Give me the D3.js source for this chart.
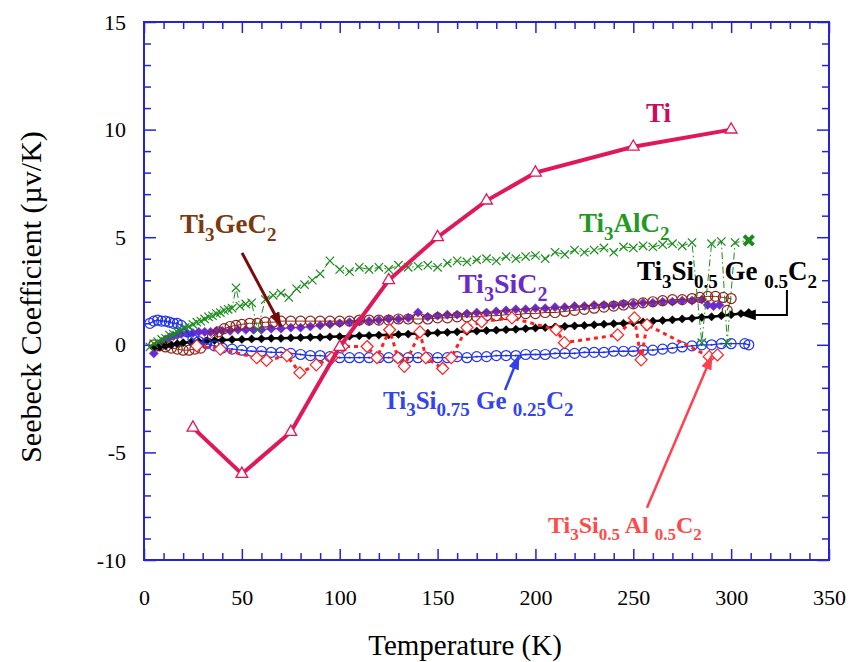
<!DOCTYPE html>
<html>
<head>
<meta charset="utf-8">
<script src="https://cdn.jsdelivr.net/npm/d3@7"></script>
<style>
  body { margin: 0; background: #fff; }
  text { font-family: "Liberation Serif", "Times New Roman", serif; white-space: pre; }
</style>
</head>
<body>
<script>
// Seebeck coefficient vs temperature
var tiData = [[25,-3.85],[50,-6.0],[75,-4.05],[100,-0.1],[125,3.0],[150,5.0],[175,6.7],[200,8.0],[250,9.2],[300,10.0]];

var alData = [[3,-0.1],[5,0.05],[7,0.15],[9,0.25],[11,0.3],[13,0.45],[15,0.5],[17,0.6],[19,0.7],[21,0.8],[23,0.85],[25,0.95],
  [27,1.05],[29,1.1],[31,1.2],[33,1.3],[35,1.35],[37,1.45],[39,1.5],[41,1.6],[43,1.65],[45,1.7],[47,2.65],[49,1.8],
  [52,1.9],[55,1.95],[58,0.7],[62,2.1],[66,2.3],[70,2.4],[74,2.2],[78,2.6],[82,2.8],[86,3.0],[90,3.3],
  [95,3.9],[100,3.5],[105,3.4],[110,3.6],[115,3.5],[120,3.6],[125,3.5],[130,3.7],[135,3.6],[140,3.65],[145,3.7],
  [150,3.6],[155,3.8],[160,3.9],[165,3.85],[170,3.95],[175,4.0],[180,3.9],[185,4.1],[190,4.0],[195,4.1],[200,4.15],
  [205,4.0],[210,4.3],[215,4.2],[220,4.4],[225,4.3],[230,4.4],[235,4.5],[240,4.3],[245,4.55],[250,4.5],[255,4.6],
  [260,4.55],[265,4.65],[270,4.7],[275,4.6],[280,4.75],[285,0.1],[290,4.7],[295,4.8],[298,0.1],[302,4.75],[309,4.85]];

var geData = [[5,0.0],[8,-0.05],[11,-0.1],[14,-0.15],[17,-0.2],[20,-0.25],[23,-0.25],[26,-0.2],[29,-0.15],[32,0.1],
  [35,0.4],[38,0.6],[41,0.75],[44,0.85],[47,0.9],[50,0.95],[54,1.0],[58,1.0],[62,1.05],[66,1.05],[70,1.1],[75,1.1],
  [80,1.1],[85,1.1],[90,1.1],[95,1.1],[100,1.1],[105,1.1],[110,1.15],[115,1.15],[120,1.15],[125,1.15],[130,1.2],
  [135,1.2],[140,1.2],[145,1.2],[150,1.25],[155,1.25],[160,1.3],[165,1.3],[170,1.3],[175,1.35],[180,1.35],[185,1.4],
  [190,1.4],[195,1.45],[200,1.45],[205,1.5],[210,1.5],[215,1.55],[220,1.6],[225,1.65],[230,1.7],[235,1.75],[240,1.8],
  [245,1.85],[250,1.9],[255,1.95],[260,2.0],[265,2.05],[270,2.1],[275,2.1],[280,2.15],[284,2.2],[288,2.25],[292,2.25],
  [296,2.2],[300,2.15],[298,1.6]];

var siData = [[5,-0.4],[7,-0.1],[9,0.1],[11,0.25],[13,0.35],[15,0.4],[17,0.45],[19,0.5],[22,0.55],[25,0.55],[28,0.6],
  [31,0.6],[34,0.6],[37,0.65],[40,0.65],[44,0.65],[48,0.7],[52,0.7],[56,0.7],[60,0.7],[65,0.75],[70,0.75],[75,0.8],
  [80,0.8],[85,0.85],[90,0.9],[95,0.95],[100,1.0],[105,1.05],[110,1.1],[115,1.1],[120,1.15],[125,1.2],[130,1.2],
  [135,1.25],[140,1.5],[145,1.3],[150,1.35],[155,1.4],[160,1.4],[165,1.45],[170,1.5],[175,1.5],[180,1.55],[185,1.6],
  [190,1.65],[195,1.65],[200,1.7],[205,1.7],[210,1.75],[215,1.75],[220,1.8],[225,1.8],[230,1.85],[235,1.85],[240,1.85],
  [245,1.9],[250,1.9],[255,1.95],[260,1.95],[265,2.0],[270,2.0],[275,2.05],[280,2.05],[285,2.1],[288,1.85],[291,1.8],[294,1.85]];

var siGeData = [[5,-0.1],[8,-0.1],[11,-0.05],[14,0.0],[17,0.05],[20,0.1],[24,0.12],[28,0.15],[32,0.18],[36,0.2],[40,0.22],
  [45,0.24],[50,0.25],[55,0.27],[60,0.28],[65,0.3],[70,0.3],[75,0.32],[80,0.33],[85,0.35],[90,0.35],[95,0.37],[100,0.38],
  [105,0.4],[110,0.42],[115,0.43],[120,0.45],[125,0.46],[130,0.48],[135,0.5],[140,0.52],[145,0.54],[150,0.56],[155,0.58],
  [160,0.6],[165,0.62],[170,0.64],[175,0.66],[180,0.68],[185,0.7],[190,0.72],[195,0.75],[200,0.78],[205,0.8],[210,0.83],
  [215,0.86],[220,0.88],[225,0.9],[230,0.93],[235,0.96],[240,0.98],[245,1.0],[250,1.03],[255,1.06],[260,1.1],[265,1.13],
  [270,1.16],[275,1.2],[280,1.23],[285,1.27],[290,1.3],[295,1.35],[300,1.4],[305,1.45],[309,1.5]];

var si75Data = [[3,1.0],[5,1.1],[7,1.15],[9,1.1],[11,1.1],[13,1.05],[15,1.0],[17,1.0],[19,0.9],[22,0.6],[25,0.25],[28,0.15],
  [32,0.05],[36,-0.05],[40,-0.15],[45,-0.2],[50,-0.25],[55,-0.3],[60,-0.3],[65,-0.35],[70,-0.35],[75,-0.4],[80,-0.45],
  [85,-0.5],[90,-0.5],[95,-0.55],[100,-0.6],[105,-0.6],[110,-0.6],[115,-0.6],[120,-0.6],[125,-0.6],[130,-0.6],[135,-0.6],
  [140,-0.6],[145,-0.6],[150,-0.6],[155,-0.6],[160,-0.55],[165,-0.6],[170,-0.55],[175,-0.55],[180,-0.5],[185,-0.5],
  [190,-0.5],[195,-0.45],[200,-0.45],[205,-0.45],[210,-0.4],[215,-0.4],[220,-0.4],[225,-0.35],[230,-0.35],[235,-0.35],
  [240,-0.3],[245,-0.3],[250,-0.3],[255,-0.25],[260,-0.25],[265,-0.2],[270,-0.15],[275,-0.1],[280,-0.05],[285,0.0],
  [290,0.0],[295,0.05],[300,0.05],[307,0.05],[309,0.0]];

var siAlData = [[27,-0.05],[39,-0.2],[57.6,-0.6],[62.6,-0.73],[73,-0.5],[79.6,-1.3],[88,-0.93],[96,-0.6],[101.6,-0.08],
  [114,-0.08],[119,-0.6],[125.5,0.7],[129.7,-0.6],[133,-1.0],[141,0.6],[144,-0.6],[152.6,-1.1],[157,-0.6],[165,0.8],
  [172.5,1.07],[188,1.25],[210.6,0.7],[214.8,0.1],[242,0.46],[250.6,1.25],[254,-0.7],[257,0.93],[288.8,-0.55],[293,-0.47]];

var xTicks = d3.range(0, 351, 10);
var yTicks = d3.range(-10, 16, 1);

var width = 851, height = 662;
var pLeft = 144, pRight = 829, pTop = 22, pBottom = 560;
var font = "Liberation Serif, Times New Roman, serif";
var axisBlue = "#2424d6";

var svg = d3.select("body").append("svg")
  .attr("width", width)
  .attr("height", height);

var x = d3.scaleLinear().domain([0, 350]).range([pLeft, pRight]);
var y = d3.scaleLinear().domain([-10, 15]).range([pBottom, pTop]);

//axes, ticks point inward on all four sides
var gB = svg.append("g").attr("transform", "translate(0," + pBottom + ")")
  .call(d3.axisBottom(x).tickValues(xTicks).tickSize(-7).tickPadding(29)
    .tickFormat(function (d) { return d % 50 === 0 ? d : ""; }));
gB.selectAll(".tick line").attr("y2", function (d) { return d % 50 === 0 ? -11 : -7; });

var gT = svg.append("g").attr("transform", "translate(0," + pTop + ")")
  .call(d3.axisTop(x).tickValues(xTicks).tickSize(-7).tickFormat(""));
gT.selectAll(".tick line").attr("y2", function (d) { return d % 50 === 0 ? 11 : 7; });

var gL = svg.append("g").attr("transform", "translate(" + pLeft + ",0)")
  .call(d3.axisLeft(y).tickValues(yTicks).tickSize(-7).tickPadding(18)
    .tickFormat(function (d) { return d % 5 === 0 ? d : ""; }));
gL.selectAll(".tick line").attr("x2", function (d) { return d % 5 === 0 ? 12 : 7; });

var gR = svg.append("g").attr("transform", "translate(" + pRight + ",0)")
  .call(d3.axisRight(y).tickValues(yTicks).tickSize(-7).tickFormat(""));
gR.selectAll(".tick line").attr("x2", function (d) { return d % 5 === 0 ? -12 : -7; });

[gB, gT, gL, gR].forEach(function (g) {
  g.select(".domain").remove();
  g.selectAll(".tick line").attr("stroke", axisBlue).attr("stroke-width", 1.5);
  g.selectAll(".tick text").attr("fill", "#000").attr("font-size", 22).attr("font-family", font);
});

svg.append("rect")
  .attr("x", pLeft).attr("y", pTop)
  .attr("width", pRight - pLeft).attr("height", pBottom - pTop)
  .attr("fill", "none").attr("stroke", axisBlue).attr("stroke-width", 2);

//axis titles
svg.append("text")
  .attr("x", 465).attr("y", 655)
  .attr("text-anchor", "middle")
  .attr("font-size", 29)
  .text("Temperature (K)");

svg.append("text")
  .attr("transform", "translate(41,297) rotate(-90)")
  .attr("text-anchor", "middle")
  .attr("font-size", 30)
  .text("Seebeck Coefficient (\u00b5v/K)");

//markers
var crossSym = {
  draw: function (ctx, size) {
    var r = Math.sqrt(size) / 2;
    ctx.moveTo(-r, -r); ctx.lineTo(r, r);
    ctx.moveTo(r, -r); ctx.lineTo(-r, r);
  }
};
var diamondSym = {
  draw: function (ctx, size) {
    var r = Math.sqrt(size / 2);
    ctx.moveTo(0, -r); ctx.lineTo(r, 0); ctx.lineTo(0, r); ctx.lineTo(-r, 0); ctx.closePath();
  }
};

var line = d3.line().x(function (d) { return x(d[0]); }).y(function (d) { return y(d[1]); });
var plot = svg.append("g");

function series(data, o) {
  plot.append("path")
    .datum(data)
    .attr("d", line)
    .attr("fill", "none")
    .attr("stroke", o.color)
    .attr("stroke-width", o.lw)
    .attr("stroke-dasharray", o.dash || null);
  var g = plot.append("g");
  if (o.shape === "circle") {
    g.selectAll("circle").data(data).join("circle")
      .attr("cx", function (d) { return x(d[0]); })
      .attr("cy", function (d) { return y(d[1]); })
      .attr("r", 5)
      .attr("fill", "none")
      .attr("stroke", o.color).attr("stroke-width", 1.2);
    if (o.dot) {
      g.selectAll("circle.dot").data(data).join("circle")
        .attr("class", "dot")
        .attr("cx", function (d) { return x(d[0]); })
        .attr("cy", function (d) { return y(d[1]); })
        .attr("r", 1.1).attr("fill", o.color);
    }
  } else {
    var sym = d3.symbol().type(o.shape).size(o.size);
    g.selectAll("path").data(data).join("path")
      .attr("transform", function (d) { return "translate(" + x(d[0]) + "," + y(d[1]) + ")"; })
      .attr("d", sym)
      .attr("fill", o.fill)
      .attr("stroke", o.mstroke || o.color)
      .attr("stroke-width", o.msw || 1.2);
  }
  return g;
}

series(siData, { color: "#6a2bd2", lw: 1.2, shape: diamondSym, size: 42, fill: "#6a2bd2", msw: 0.5 });
series(geData, { color: "#8b2418", lw: 1, shape: "circle" });
series(siGeData, { color: "#000", lw: 2.5, shape: diamondSym, size: 34, fill: "#000", msw: 0.5 });
series(si75Data, { color: "#2233ee", lw: 1.3, shape: "circle", dot: true });
series(siAlData, { color: "#ff2020", lw: 3, dash: "4,4", shape: diamondSym, size: 72, fill: "white", msw: 1.2 });
var alG = series(alData, { color: "#1b8c1b", lw: 1, dash: "7,3,1.5,3", shape: crossSym, size: 70, fill: "none", msw: 1.2 });
alG.selectAll("path").filter(function (d, i) { return i === alData.length - 1; })
  .attr("stroke-width", 4).attr("d", d3.symbol().type(crossSym).size(90));
series(tiData, { color: "#e0185a", lw: 4, shape: d3.symbolTriangle, size: 60, fill: "white", msw: 1.3 });

//arrows
var defs = svg.append("defs");
function arrow(pts, color, lw) {
  var id = "ah" + color.replace("#", "");
  defs.append("marker")
    .attr("id", id)
    .attr("viewBox", "0 -5 14 10")
    .attr("refX", 13).attr("refY", 0)
    .attr("markerUnits", "userSpaceOnUse")
    .attr("markerWidth", 15).attr("markerHeight", 11)
    .attr("orient", "auto")
    .append("path").attr("d", "M0,-5L14,0L0,5Z").attr("fill", color);
  svg.append("path")
    .datum(pts)
    .attr("d", line)
    .attr("fill", "none")
    .attr("stroke", color)
    .attr("stroke-width", lw)
    .attr("marker-end", "url(#" + id + ")");
}
arrow([[50.1, 4.27], [70.0, 0.87]], "#7a0a0a", 3);
arrow([[184.5, -2.1], [191.6, -0.5]], "#3040ee", 2.5);
arrow([[257, -7.57], [290.2, -0.5]], "#ff4050", 2.5);
arrow([[328.5, 2.55], [328.5, 1.39], [305.5, 1.39]], "#000000", 2);

//series labels
function label(tx, ty, parts, color, size, subScale) {
  var t = svg.append("text")
    .attr("x", x(tx)).attr("y", y(ty))
    .attr("fill", color)
    .attr("font-size", size)
    .attr("font-weight", "bold");
  var shifted = false;
  parts.forEach(function (p) {
    var ts = t.append("tspan").text(p[0]);
    if (p[1]) {
      ts.attr("font-size", Math.round(size * subScale));
      if (!shifted) { ts.attr("dy", size * 0.3); shifted = true; }
    } else if (shifted) {
      ts.attr("dy", -size * 0.3); shifted = false;
    }
  });
}
label(256.5, 10.35, [["Ti", 0]], "#cc0a5e", 27, 0.7);
label(18.4, 5.2, [["Ti", 0], ["3", 1], ["GeC", 0], ["2", 1]], "#7a3a10", 27, 0.7);
label(222.3, 5.24, [["Ti", 0], ["3", 1], ["AlC", 0], ["2", 1]], "#229922", 27, 0.7);
label(160.4, 2.42, [["Ti", 0], ["3", 1], ["SiC", 0], ["2", 1]], "#6a2bc8", 28, 0.7);
label(251.9, 3.02, [["Ti", 0], ["3", 1], ["Si", 0], ["0.5", 1], [" Ge ", 0], ["0.5", 1], ["C", 0], ["2", 1]], "#000", 27, 0.72);
label(122.1, -2.98, [["Ti", 0], ["3", 1], ["Si", 0], ["0.75", 1], [" Ge ", 0], ["0.25", 1], ["C", 0], ["2", 1]], "#3344ee", 25, 0.76);
label(206.4, -8.75, [["Ti", 0], ["3", 1], ["Si", 0], ["0.5", 1], [" Al ", 0], ["0.5", 1], ["C", 0], ["2", 1]], "#ff4a4a", 24, 0.7);
</script>
</body>
</html>
